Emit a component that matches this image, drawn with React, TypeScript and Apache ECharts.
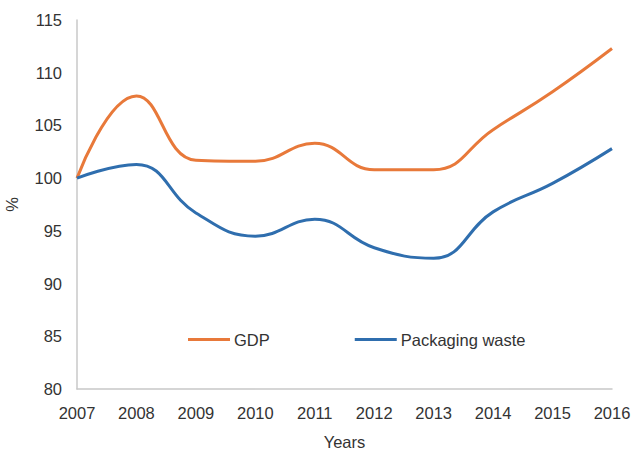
import React, { useEffect, useRef } from "react";
import * as echarts from "echarts";

const years = ["2007", "2008", "2009", "2010", "2011", "2012", "2013", "2014", "2015", "2016"];
const gdp = [100, 107.8, 101.7, 101.6, 103.3, 100.8, 100.8, 104.6, 108.2, 112.3];
const packagingWaste = [100, 101.3, 96.7, 94.5, 96.1, 93.4, 92.4, 96.8, 99.5, 102.8];
const yMin = 80;
const yMax = 115;
const yStep = 5;

export default function App() {
  const ref = useRef<HTMLDivElement>(null);
  useEffect(() => {
    if (!ref.current) return;
    const chart = echarts.init(ref.current, undefined, { renderer: "svg" });
    const font = "'Liberation Sans', Arial, sans-serif";
    const fs = 16.5;
    chart.setOption({
      animation: false,
      textStyle: { fontFamily: font },
      grid: { left: 77, right: 22, top: 20, bottom: 64, containLabel: false, outerBoundsMode: "none" },
      legend: {
        left: 183,
        top: 326,
        icon: "rect",
        itemWidth: 42,
        itemHeight: 3,
        itemGap: 85,
        textStyle: { fontSize: fs, color: "#333", fontFamily: font, padding: [0, 0, 0, -1] },
        data: ["GDP", "Packaging waste"],
      },
      xAxis: {
        type: "category",
        data: years,
        boundaryGap: false,
        name: "Years",
        nameLocation: "middle",
        nameGap: 44,
        nameTextStyle: { fontSize: fs, color: "#333", fontFamily: font },
        axisLine: { lineStyle: { color: "#c8c8c8", width: 1.5 } },
        axisTick: { show: false },
        axisLabel: { fontSize: fs, color: "#333", margin: 15, fontFamily: font },
      },
      yAxis: {
        type: "value",
        min: yMin,
        max: yMax,
        interval: yStep,
        name: "%",
        nameLocation: "middle",
        nameGap: 57,
        nameRotate: 90,
        nameTextStyle: { fontSize: fs, color: "#333", fontFamily: font },
        axisLine: { show: true, lineStyle: { color: "#c8c8c8", width: 1.5 } },
        axisTick: { show: false },
        splitLine: { show: false },
        axisLabel: { fontSize: fs, color: "#333", margin: 15, fontFamily: font },
      },
      series: [
        {
          name: "GDP",
          type: "line",
          data: gdp,
          smooth: 0.45,
          symbol: "none",
          lineStyle: { color: "#E8793A", width: 3 },
          itemStyle: { color: "#E8793A" },
        },
        {
          name: "Packaging waste",
          type: "line",
          data: packagingWaste,
          smooth: 0.45,
          symbol: "none",
          lineStyle: { color: "#2F6EAE", width: 3 },
          itemStyle: { color: "#2F6EAE" },
        },
      ],
    });
    return () => chart.dispose();
  }, []);
  return <div ref={ref} style={{ width: 634, height: 453, position: "absolute", left: 0, top: 0, background: "#fff" }} />;
}
